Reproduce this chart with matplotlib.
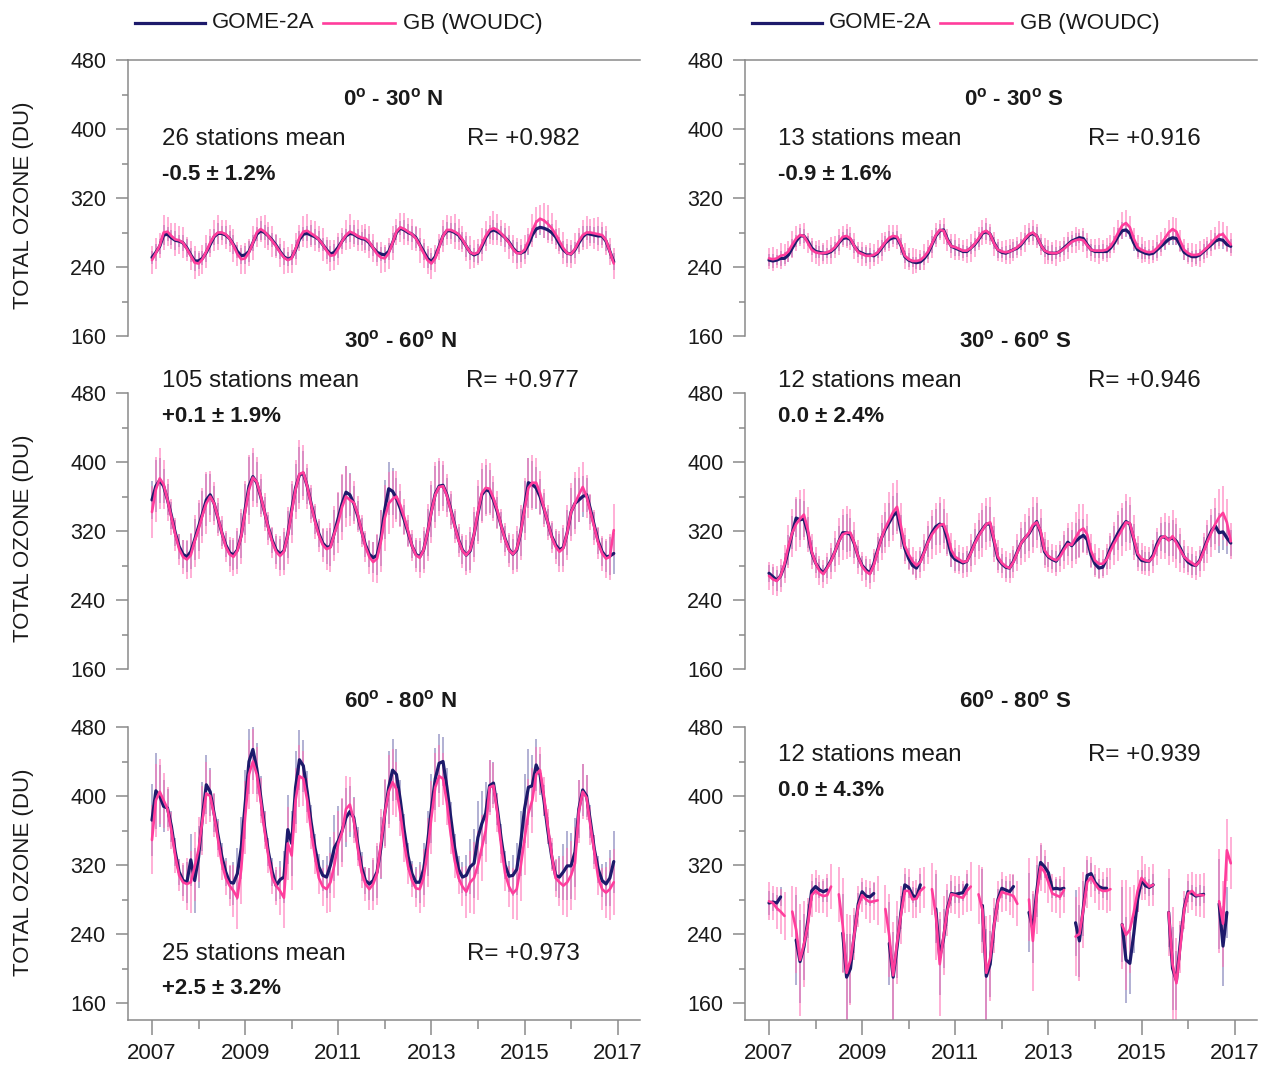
import numpy as np
import matplotlib
matplotlib.use('Agg')
import matplotlib.pyplot as plt

plt.rcParams['font.family'] = ['Liberation Sans', 'DejaVu Sans']
plt.rcParams['mathtext.fontset'] = 'custom'
plt.rcParams['mathtext.rm'] = 'Liberation Sans'
plt.rcParams['mathtext.bf'] = 'Liberation Sans:bold'

nan = np.nan
W, H = 1262, 1067

months = np.arange(120)
time = 2007 + months / 12.0

# ---- 0-30 N ----
gome_0_30n = [251, 257, 264, 277, 278, 274, 271, 270, 268, 262, 254, 247,
              247, 250, 257, 266, 275, 279, 279, 277, 273, 266, 258, 253,
              254, 258, 268, 278, 282, 280, 276, 271, 265, 258, 252, 249,
              251, 260, 272, 278, 279, 277, 275, 272, 266, 260, 255, 257,
              263, 270, 276, 279, 278, 275, 273, 272, 268, 262, 257, 255,
              254, 258, 268, 280, 285, 283, 280, 278, 274, 266, 258, 250,
              246, 252, 264, 276, 282, 282, 280, 277, 271, 264, 257, 254,
              256, 264, 274, 281, 283, 281, 278, 274, 269, 262, 257, 256,
              258, 266, 277, 284, 286, 285, 283, 280, 275, 267, 260, 256,
              255, 260, 268, 275, 279, 278, 277, 276, 276, 270, 258, 246]
gb_0_30n = [248, 256, 265, 280, 281, 276, 272, 271, 268, 261, 253, 245,
            244, 249, 258, 268, 276, 280, 280, 278, 273, 265, 255, 249,
            250, 257, 268, 280, 284, 281, 276, 270, 264, 257, 251, 248,
            250, 261, 274, 281, 282, 279, 276, 272, 266, 259, 253, 254,
            261, 270, 277, 281, 279, 276, 274, 273, 269, 262, 255, 251,
            250, 256, 268, 281, 286, 284, 281, 278, 273, 265, 256, 248,
            244, 250, 263, 276, 283, 283, 281, 278, 272, 264, 257, 255,
            257, 266, 276, 283, 285, 283, 279, 274, 268, 261, 256, 256,
            260, 270, 282, 292, 296, 294, 290, 285, 278, 270, 262, 256,
            255, 261, 270, 277, 280, 280, 279, 278, 277, 271, 258, 244]
err_gome_0_30n = [8, 10, 9, 12, 8, 9, 11, 7, 9, 10, 8, 12,
                  9, 8, 11, 10, 9, 12, 8, 10, 9, 11, 8, 9,
                  10, 12, 9, 8, 11, 9, 10, 8, 12, 9, 10, 8,
                  9, 11, 10, 8, 9, 12, 9, 10, 8, 11, 9, 10,
                  12, 9, 8, 10, 11, 9, 8, 12, 10, 9, 11, 8,
                  9, 10, 12, 9, 8, 11, 10, 9, 12, 8, 10, 11,
                  10, 8, 9, 12, 10, 9, 11, 8, 10, 12, 9, 8,
                  11, 9, 10, 8, 12, 10, 9, 11, 8, 9, 12, 10,
                  9, 12, 8, 10, 9, 11, 12, 10, 9, 8, 10, 11,
                  10, 9, 11, 12, 8, 10, 9, 11, 10, 12, 9, 10]
err_gb_0_30n = [16, 18, 14, 20, 17, 15, 19, 16, 18, 14, 17, 19,
                15, 17, 19, 16, 18, 20, 15, 17, 16, 19, 14, 17,
                18, 16, 20, 17, 15, 19, 16, 18, 14, 17, 19, 15,
                17, 19, 15, 18, 20, 16, 17, 15, 19, 16, 18, 17,
                19, 15, 17, 20, 16, 18, 15, 17, 19, 16, 14, 18,
                16, 18, 20, 15, 17, 19, 16, 18, 15, 20, 17, 16,
                18, 16, 15, 19, 17, 16, 20, 18, 15, 17, 19, 16,
                15, 19, 17, 16, 20, 18, 15, 17, 19, 16, 18, 17,
                17, 15, 19, 18, 16, 20, 22, 18, 17, 15, 19, 16,
                16, 18, 15, 17, 19, 16, 18, 20, 15, 17, 16, 18]

# ---- 0-30 S ----
gome_0_30s = [248, 247, 248, 250, 250, 254, 262, 270, 276, 276, 270, 262,
              258, 257, 256, 256, 258, 262, 268, 273, 274, 272, 264, 258,
              256, 254, 254, 253, 256, 262, 268, 272, 274, 274, 265, 252,
              248, 246, 245, 246, 250, 256, 266, 276, 282, 283, 272, 264,
              262, 260, 258, 258, 262, 266, 272, 279, 281, 278, 268, 260,
              257, 256, 258, 260, 262, 266, 272, 277, 279, 276, 266, 259,
              256, 256, 256, 258, 262, 266, 270, 272, 274, 273, 266, 260,
              258, 258, 258, 258, 262, 268, 276, 282, 283, 279, 268, 260,
              258, 256, 255, 256, 260, 264, 268, 272, 274, 273, 265, 257,
              254, 252, 252, 254, 258, 262, 266, 270, 272, 271, 266, 264]
gb_0_30s = [250, 249, 250, 253, 254, 258, 266, 273, 277, 276, 268, 260,
            257, 256, 256, 257, 259, 263, 269, 275, 276, 273, 264, 257,
            255, 253, 253, 254, 257, 263, 269, 274, 276, 275, 266, 253,
            249, 247, 247, 248, 252, 258, 267, 277, 283, 282, 271, 264,
            263, 261, 259, 259, 262, 267, 273, 280, 282, 278, 267, 260,
            258, 257, 258, 260, 263, 267, 273, 278, 280, 276, 266, 259,
            257, 256, 256, 258, 261, 265, 269, 271, 272, 271, 265, 260,
            259, 259, 259, 260, 264, 271, 280, 288, 291, 286, 273, 263,
            260, 258, 257, 258, 262, 267, 273, 280, 284, 281, 270, 260,
            256, 254, 254, 255, 259, 263, 268, 273, 277, 278, 272, 266]
err_gome_0_30s = [7, 8, 6, 9, 7, 8, 10, 7, 9, 8, 6, 8,
                  8, 7, 9, 6, 8, 7, 9, 8, 10, 7, 8, 6,
                  7, 9, 8, 7, 6, 9, 8, 10, 7, 8, 9, 7,
                  8, 6, 7, 9, 8, 7, 10, 9, 8, 7, 6, 8,
                  9, 7, 8, 6, 7, 8, 9, 7, 10, 8, 7, 9,
                  6, 8, 7, 9, 8, 6, 7, 8, 9, 10, 8, 7,
                  8, 9, 7, 6, 8, 9, 7, 8, 6, 9, 8, 7,
                  7, 8, 9, 7, 6, 8, 9, 10, 8, 7, 9, 8,
                  9, 7, 6, 8, 9, 7, 8, 6, 9, 8, 7, 9,
                  8, 6, 8, 7, 9, 8, 7, 9, 8, 10, 7, 8]
err_gb_0_30s = [12, 14, 11, 15, 13, 12, 16, 14, 13, 15, 12, 14,
                13, 15, 12, 14, 16, 13, 15, 12, 14, 13, 15, 12,
                14, 12, 15, 13, 14, 16, 12, 15, 13, 14, 12, 15,
                13, 15, 14, 12, 15, 13, 16, 14, 12, 15, 13, 14,
                15, 13, 12, 14, 16, 15, 13, 14, 15, 12, 14, 13,
                12, 14, 15, 13, 12, 14, 16, 13, 15, 14, 12, 15,
                14, 13, 15, 12, 14, 16, 13, 15, 12, 14, 15, 13,
                13, 15, 12, 14, 13, 15, 14, 16, 15, 13, 12, 14,
                15, 12, 14, 13, 15, 14, 12, 15, 14, 16, 13, 12,
                12, 14, 13, 15, 14, 12, 15, 13, 16, 14, 15, 13]

# ---- 30-60 N ----
gome_30_60n = [356, 372, 379, 372, 356, 338, 318, 302, 293, 290, 296, 310,
               325, 340, 356, 362, 352, 335, 318, 304, 295, 292, 298, 315,
               345, 372, 383, 376, 360, 342, 324, 309, 298, 293, 297, 316,
               345, 370, 385, 387, 372, 352, 333, 317, 306, 301, 302, 318,
               335, 352, 365, 362, 352, 338, 320, 304, 293, 289, 292, 312,
               345, 369, 366, 358, 346, 333, 318, 303, 293, 290, 298, 318,
               343, 363, 372, 373, 362, 345, 327, 310, 298, 292, 297, 316,
               340, 362, 368, 366, 356, 342, 326, 311, 299, 293, 298, 318,
               348, 376, 374, 370, 360, 346, 330, 314, 304, 298, 301, 318,
               342, 352, 356, 360, 362, 345, 326, 308, 296, 290, 291, 294]
gb_30_60n = [342, 368, 381, 374, 356, 336, 316, 299, 290, 287, 292, 308,
             322, 338, 352, 360, 352, 336, 318, 302, 293, 290, 297, 314,
             342, 368, 382, 377, 361, 342, 323, 307, 296, 291, 296, 315,
             342, 368, 386, 388, 372, 351, 331, 315, 304, 299, 301, 317,
             330, 348, 360, 356, 353, 340, 320, 302, 290, 284, 288, 308,
             335, 352, 357, 360, 350, 336, 320, 303, 292, 289, 298, 318,
             342, 362, 371, 372, 361, 344, 326, 309, 297, 292, 298, 316,
             342, 364, 370, 369, 358, 344, 326, 310, 298, 293, 299, 318,
             345, 370, 376, 376, 364, 347, 330, 313, 302, 296, 300, 318,
             342, 352, 362, 371, 360, 342, 324, 306, 294, 288, 290, 321]
err_gome_30_60n = [22, 30, 26, 20, 18, 16, 15, 14, 16, 18, 20, 24,
                   28, 26, 30, 24, 20, 17, 15, 14, 15, 17, 22, 26,
                   30, 34, 28, 24, 20, 17, 15, 14, 16, 18, 22, 27,
                   30, 28, 32, 26, 21, 18, 16, 15, 16, 19, 22, 26,
                   29, 33, 30, 25, 20, 17, 15, 14, 15, 18, 23, 32,
                   34, 31, 27, 24, 20, 17, 15, 14, 16, 18, 22, 27,
                   30, 32, 29, 24, 20, 18, 16, 15, 16, 18, 22, 26,
                   32, 30, 28, 25, 21, 18, 16, 15, 16, 18, 22, 27,
                   30, 29, 27, 24, 20, 18, 16, 15, 16, 19, 22, 26,
                   28, 30, 26, 24, 20, 17, 16, 15, 16, 18, 22, 24]
err_gb_30_60n = [30, 38, 35, 28, 24, 21, 19, 18, 20, 23, 26, 30,
                 34, 32, 36, 30, 25, 22, 19, 18, 20, 22, 27, 32,
                 36, 40, 34, 29, 25, 22, 19, 18, 20, 23, 27, 33,
                 36, 34, 40, 32, 26, 22, 20, 19, 20, 24, 28, 32,
                 35, 38, 35, 30, 25, 21, 19, 18, 20, 23, 28, 36,
                 38, 36, 33, 29, 25, 21, 19, 18, 20, 23, 27, 33,
                 36, 38, 34, 29, 25, 22, 20, 19, 20, 23, 27, 32,
                 37, 35, 33, 30, 26, 22, 20, 19, 20, 23, 27, 32,
                 36, 35, 32, 29, 25, 22, 20, 19, 20, 24, 27, 32,
                 34, 36, 32, 29, 25, 21, 20, 19, 20, 23, 27, 30]

# ---- 30-60 S ----
gome_30_60s = [271, 267, 263, 268, 280, 298, 318, 335, 333, 334, 318, 295,
               283, 276, 271, 278, 286, 296, 308, 318, 318, 316, 305, 290,
               280, 275, 271, 282, 298, 312, 322, 330, 338, 342, 320, 300,
               288, 280, 277, 285, 296, 308, 318, 325, 328, 326, 310, 292,
               287, 285, 283, 285, 295, 306, 315, 322, 328, 328, 308, 288,
               282, 278, 277, 285, 296, 306, 312, 317, 325, 331, 318, 296,
               290, 287, 285, 292, 300, 307, 303, 308, 312, 315, 310, 292,
               282, 277, 278, 288, 300, 309, 318, 325, 331, 328, 310, 292,
               286, 285, 285, 292, 305, 313, 313, 310, 312, 308, 300, 290,
               284, 281, 280, 286, 298, 310, 320, 326, 318, 319, 312, 306]
gb_30_60s = [268, 264, 262, 268, 282, 302, 318, 328, 334, 339, 322, 296,
             283, 274, 270, 277, 285, 296, 308, 316, 318, 318, 306, 290,
             279, 273, 270, 280, 296, 312, 324, 333, 342, 348, 326, 303,
             293, 285, 280, 284, 295, 307, 316, 322, 327, 328, 316, 298,
             290, 287, 284, 285, 294, 305, 314, 321, 328, 330, 310, 290,
             283, 279, 277, 284, 295, 306, 312, 318, 327, 330, 320, 298,
             291, 288, 286, 290, 298, 305, 304, 312, 320, 323, 316, 297,
             286, 282, 282, 287, 297, 306, 314, 322, 330, 329, 312, 294,
             288, 286, 285, 290, 302, 312, 314, 309, 314, 306, 298, 290,
             286, 283, 280, 285, 296, 308, 318, 328, 336, 341, 330, 308]
err_gome_30_60s = [10, 11, 12, 13, 15, 17, 19, 22, 24, 21, 18, 14,
                   12, 11, 10, 12, 14, 16, 18, 20, 22, 19, 16, 13,
                   11, 12, 11, 13, 15, 17, 20, 22, 23, 22, 19, 15,
                   12, 10, 11, 12, 14, 18, 19, 21, 24, 20, 17, 14,
                   13, 11, 12, 12, 15, 16, 18, 22, 21, 20, 18, 13,
                   11, 12, 11, 13, 14, 17, 19, 20, 23, 21, 17, 15,
                   12, 11, 12, 12, 15, 16, 18, 21, 22, 19, 16, 14,
                   13, 12, 10, 12, 14, 17, 20, 22, 24, 22, 18, 14,
                   12, 11, 11, 13, 14, 16, 18, 19, 21, 20, 17, 13,
                   11, 12, 11, 12, 15, 17, 19, 21, 23, 21, 19, 15]
err_gb_30_60s = [16, 18, 17, 19, 22, 25, 28, 31, 33, 30, 26, 20,
                 18, 17, 16, 18, 21, 24, 27, 30, 31, 28, 24, 20,
                 17, 18, 17, 19, 22, 26, 29, 32, 34, 31, 27, 21,
                 18, 16, 17, 18, 21, 25, 28, 30, 33, 29, 25, 20,
                 19, 17, 18, 18, 22, 24, 27, 31, 30, 29, 26, 19,
                 17, 18, 17, 19, 21, 25, 28, 29, 32, 30, 25, 21,
                 18, 17, 18, 18, 22, 24, 27, 30, 31, 28, 24, 20,
                 19, 18, 16, 18, 21, 25, 29, 31, 33, 31, 26, 20,
                 18, 17, 17, 19, 21, 24, 27, 28, 30, 29, 25, 19,
                 17, 18, 17, 18, 22, 25, 28, 30, 33, 31, 27, 21]

# ---- 60-80 N ----
gome_60_80n = [372, 406, 400, 388, 386, 365, 335, 312, 302, 300, 326, 302,
               329, 376, 413, 405, 380, 355, 330, 312, 300, 299, 310, 340,
               390, 440, 454, 432, 400, 365, 335, 312, 296, 303, 306, 361,
               345, 410, 442, 435, 405, 370, 340, 318, 308, 306, 320, 340,
               348, 360, 375, 382, 375, 345, 318, 302, 298, 302, 312, 340,
               380, 410, 430, 425, 395, 360, 330, 310, 300, 300, 315, 345,
               385, 420, 438, 440, 410, 375, 340, 315, 306, 308, 318, 322,
               352, 368, 380, 412, 415, 385, 350, 320, 307, 308, 315, 345,
               385, 410, 412, 436, 425, 395, 360, 330, 308, 306, 312, 319,
               319, 335, 385, 407, 400, 370, 338, 315, 302, 298, 305, 324]
gb_60_80n = [349, 395, 405, 395, 385, 360, 330, 308, 300, 298, 300, 318,
             338, 372, 403, 400, 378, 350, 322, 305, 296, 290, 282, 315,
             375, 425, 440, 425, 395, 360, 330, 305, 296, 290, 282, 345,
             331, 395, 423, 420, 395, 360, 330, 305, 295, 292, 300, 320,
             345, 358, 385, 390, 372, 340, 312, 298, 292, 298, 310, 345,
             380, 405, 416, 408, 380, 345, 318, 302, 293, 292, 305, 335,
             375, 410, 423, 420, 392, 355, 325, 305, 295, 289, 300, 305,
             320, 340, 360, 410, 412, 380, 342, 310, 295, 287, 292, 318,
             350, 380, 395, 425, 430, 400, 365, 332, 305, 300, 296, 300,
             308, 322, 382, 405, 398, 365, 335, 305, 292, 288, 292, 300]
err_gome_60_80n = [42, 44, 36, 30, 22, 18, 16, 15, 18, 24, 30, 38,
                   36, 40, 34, 28, 22, 18, 16, 16, 19, 25, 30, 36,
                   40, 38, 36, 30, 23, 18, 16, 16, 18, 22, 30, 40,
                   38, 42, 35, 30, 24, 19, 16, 15, 18, 24, 32, 38,
                   40, 36, 34, 30, 24, 19, 17, 16, 18, 24, 30, 36,
                   38, 42, 36, 30, 24, 19, 16, 15, 18, 24, 30, 38,
                   40, 36, 34, 28, 23, 18, 16, 15, 18, 24, 32, 40,
                   42, 38, 36, 30, 24, 19, 17, 16, 18, 24, 30, 38,
                   40, 44, 36, 30, 24, 18, 16, 15, 18, 24, 32, 40,
                   38, 40, 34, 30, 24, 19, 17, 16, 19, 25, 32, 36]
err_gb_60_80n = [40, 42, 38, 32, 26, 21, 19, 18, 22, 30, 36, 40,
                 38, 40, 36, 30, 25, 21, 19, 20, 24, 30, 36, 40,
                 42, 40, 38, 32, 26, 22, 19, 19, 22, 28, 35, 42,
                 40, 38, 36, 32, 26, 22, 20, 19, 22, 28, 34, 38,
                 38, 40, 38, 32, 26, 21, 19, 20, 24, 30, 36, 40,
                 40, 42, 38, 32, 26, 22, 20, 19, 22, 28, 34, 40,
                 42, 40, 36, 30, 26, 22, 20, 19, 23, 30, 36, 42,
                 40, 38, 36, 32, 26, 22, 20, 20, 24, 30, 36, 40,
                 42, 40, 38, 32, 27, 22, 20, 19, 22, 28, 34, 40,
                 40, 42, 36, 32, 26, 22, 20, 20, 24, 30, 36, 38]

# ---- 60-80 S (no data in polar night) ----
gome_60_80s = [276, 277, 276, 283, nan, nan, nan, 233, 208, 225, 255, 290,
               295, 291, 289, 291, nan, nan, nan, 241, 190, 200, 240, 275,
               289, 284, 283, 287, nan, nan, nan, 229, 190, 225, 265, 297,
               294, 285, 282, 297, nan, nan, nan, 269, 213, 235, 270, 287,
               286, 287, 288, 297, nan, nan, nan, 273, 191, 205, 250, 280,
               293, 291, 289, 295, nan, nan, nan, 265, 246, 290, 323, 318,
               311, 292, 293, 292, 293, nan, nan, 253, 232, 270, 308, 310,
               300, 295, 293, 293, nan, nan, nan, 251, 210, 206, 240, 280,
               303, 296, 294, 297, nan, nan, nan, 265, 200, 186, 230, 270,
               289, 287, 284, 285, 286, nan, nan, nan, 275, 226, 265, nan]
gb_60_80s = [278, 276, 270, 266, 261, nan, 266, 245, 210, 228, 250, 285,
             290, 286, 284, 285, 295, nan, 286, 250, 195, 210, 240, 272,
             285, 280, 277, 278, 279, nan, 269, 238, 192, 230, 262, 290,
             290, 280, 281, 290, 294, nan, 292, 262, 205, 238, 268, 286,
             285, 283, 282, 290, 295, nan, 286, 268, 195, 212, 250, 278,
             289, 287, 286, 284, 275, nan, nan, 280, 232, 285, 318, 312,
             300, 287, 285, 283, 291, nan, nan, 237, 240, 268, 300, 306,
             298, 292, 290, 290, 292, nan, nan, 251, 239, 245, 265, 290,
             305, 300, 295, 297, nan, nan, nan, 265, 205, 183, 225, 268,
             287, 290, 285, 285, 285, nan, nan, nan, 278, 252, 337, 322]
err_gome_60_80s = [14, 10, 9, 11, 10, 10, 10, 52, 48, 38, 20, 12,
                   10, 9, 12, 14, 10, 10, 10, 45, 50, 40, 22, 13,
                   11, 10, 10, 12, 10, 10, 10, 48, 52, 36, 19, 12,
                   12, 9, 11, 13, 10, 10, 10, 40, 44, 34, 21, 14,
                   10, 11, 10, 12, 10, 10, 10, 42, 55, 38, 20, 12,
                   11, 10, 12, 13, 10, 10, 10, 46, 40, 30, 20, 13,
                   12, 10, 11, 12, 10, 10, 10, 38, 42, 32, 18, 12,
                   10, 9, 11, 13, 10, 10, 10, 44, 50, 36, 22, 14,
                   11, 10, 10, 12, 10, 10, 10, 40, 48, 34, 20, 12,
                   12, 10, 11, 12, 10, 10, 10, 42, 52, 46, 30, 20]
err_gb_60_80s = [22, 20, 24, 26, 28, 25, 30, 50, 65, 50, 32, 25,
                 24, 22, 20, 25, 26, 25, 32, 55, 68, 52, 30, 24,
                 20, 23, 24, 22, 28, 25, 28, 48, 62, 48, 34, 26,
                 25, 21, 22, 26, 24, 25, 30, 52, 60, 46, 30, 22,
                 22, 24, 20, 24, 28, 25, 34, 50, 66, 50, 32, 24,
                 23, 20, 24, 25, 26, 25, 30, 48, 58, 45, 28, 25,
                 24, 22, 21, 24, 27, 25, 30, 46, 55, 44, 30, 23,
                 22, 24, 22, 26, 25, 25, 32, 52, 64, 50, 32, 24,
                 25, 21, 23, 24, 28, 25, 30, 50, 66, 52, 30, 22,
                 23, 22, 24, 25, 26, 25, 30, 48, 60, 50, 36, 30]

titles = [r'0$^{\mathbf{o}}$ - 30$^{\mathbf{o}}$ N', r'30$^{\mathbf{o}}$ - 60$^{\mathbf{o}}$ N',
          r'60$^{\mathbf{o}}$ - 80$^{\mathbf{o}}$ N', r'0$^{\mathbf{o}}$ - 30$^{\mathbf{o}}$ S',
          r'30$^{\mathbf{o}}$ - 60$^{\mathbf{o}}$ S', r'60$^{\mathbf{o}}$ - 80$^{\mathbf{o}}$ S']
stations = ['26 stations mean', '105 stations mean', '25 stations mean',
            '13 stations mean', '12 stations mean', '12 stations mean']
r_values = ['R= +0.982', 'R= +0.977', 'R= +0.973', 'R= +0.916', 'R= +0.946', 'R= +0.939']
biases = ['-0.5 \u00b1 1.2%', '+0.1 \u00b1 1.9%', '+2.5 \u00b1 3.2%',
          '-0.9 \u00b1 1.6%', '0.0 \u00b1 2.4%', '0.0 \u00b1 4.3%']

panels = [
    (gome_0_30n, gb_0_30n, err_gome_0_30n, err_gb_0_30n),
    (gome_30_60n, gb_30_60n, err_gome_30_60n, err_gb_30_60n),
    (gome_60_80n, gb_60_80n, err_gome_60_80n, err_gb_60_80n),
    (gome_0_30s, gb_0_30s, err_gome_0_30s, err_gb_0_30s),
    (gome_30_60s, gb_30_60s, err_gome_30_60s, err_gb_30_60s),
    (gome_60_80s, gb_60_80s, err_gome_60_80s, err_gb_60_80s),
]

NAVY = '#1d1a6b'
PINK = '#ff3d9c'
GRAY = '#8a8a8a'
TXT = '#1a1a1a'

fig = plt.figure(figsize=(W / 100, H / 100), dpi=100)

col_left = [128, 745]
row_top = [60, 393, 727]
ax_w, ax_h = 512, 293

# layout of the text in pixels (x of stats text, x of R, title centre, y of title / stats / bias)
text_layout = [
    (162, 467, 393, 99, 139, 174),
    (162, 466, 400, 341, 381, 417),
    (162, 467, 400, 701, 954, 989),
    (778, 1088, 1014, 99, 139, 174),
    (778, 1088, 1015, 341, 381, 417),
    (778, 1088, 1015, 701, 755, 791),
]

for i, (g, b, eg, eb) in enumerate(panels):
    col, row = divmod(i, 3)
    x0, y0 = col_left[col], row_top[row]
    ax = fig.add_axes([x0 / W, 1 - (y0 + ax_h) / H, ax_w / W, ax_h / H])
    ax.patch.set_visible(False)
    g = np.array(g, float)
    b = np.array(b, float)
    eg = np.array(eg, float)
    eb = np.array(eb, float)

    ok = ~np.isnan(g)
    ax.vlines(time[ok], (g - eg)[ok], (g + eg)[ok], color='#5b5aa3', alpha=0.6, lw=1.1, zorder=1)
    ok = ~np.isnan(b)
    ax.vlines(time[ok], (b - eb)[ok], (b + eb)[ok], color='#ff6fb6', alpha=0.7, lw=1.1, zorder=2)
    ax.plot(time, g, color=NAVY, lw=2.3, zorder=3, solid_capstyle='round')
    ax.plot(time, b, color=PINK, lw=1.9, zorder=4, solid_capstyle='round')

    ax.set_xlim(2006.485, 2017.48)
    ax.set_ylim(140.3, 480)
    for s in ax.spines.values():
        s.set_color(GRAY)
        s.set_linewidth(1.1)
    ax.spines['right'].set_visible(False)
    ax.spines['top'].set_visible(row == 0)
    ax.spines['bottom'].set_visible(row == 2)
    if row < 2:
        ax.spines['left'].set_bounds(160, 480)

    ax.set_yticks([160, 240, 320, 400, 480])
    ax.set_yticks([200, 280, 360, 440], minor=True)
    ax.tick_params(axis='y', which='major', direction='out', length=8.6, width=1.1,
                   color=GRAY, labelsize=15.5, labelcolor=TXT, pad=7)
    ax.tick_params(axis='y', which='minor', direction='out', length=4.3, width=1.1, color=GRAY)
    if row == 2:
        ax.set_xticks(range(2007, 2018, 2))
        ax.set_xticks(range(2008, 2017, 2), minor=True)
        ax.tick_params(axis='x', which='major', direction='out', length=10.8, width=1.1,
                       color=GRAY, labelsize=16, labelcolor=TXT, pad=6)
        ax.tick_params(axis='x', which='minor', direction='out', length=6.5, width=1.1, color=GRAY)
    else:
        ax.set_xticks([])
        ax.set_xticks([], minor=True)

# overlay in pixel coordinates for texts and legends
ov = fig.add_axes([0, 0, 1, 1], zorder=10)
ov.set_xlim(0, W)
ov.set_ylim(H, 0)
ov.axis('off')
ov.patch.set_visible(False)

for i in range(6):
    xs, xr, xt, yt, ys, yb = text_layout[i]
    ov.text(xt, yt, titles[i], fontsize=16, fontweight='bold', ha='center', va='center', color=TXT)
    ov.text(xs, ys, stations[i], fontsize=17.4, ha='left', va='center', color=TXT)
    ov.text(xr, ys, r_values[i], fontsize=17.4, ha='left', va='center', color=TXT)
    ov.text(xs, yb, biases[i], fontsize=16, fontweight='bold', ha='left', va='center', color=TXT)

for yc in [205, 538, 872]:
    ov.text(24, yc, 'TOTAL OZONE (DU)', fontsize=16, rotation=90, ha='center', va='center', color=TXT)

for dx in [0, 617]:
    ov.plot([135 + dx, 205 + dx], [23, 23], color=NAVY, lw=2.3)
    ov.text(212 + dx, 23, 'GOME-2A', fontsize=16, ha='left', va='center', color=TXT)
    ov.plot([323 + dx, 395 + dx], [23, 23], color=PINK, lw=1.9)
    ov.text(403 + dx, 23, 'GB (WOUDC)', fontsize=16, ha='left', va='center', color=TXT)

fig.savefig('out.png', dpi=100)
